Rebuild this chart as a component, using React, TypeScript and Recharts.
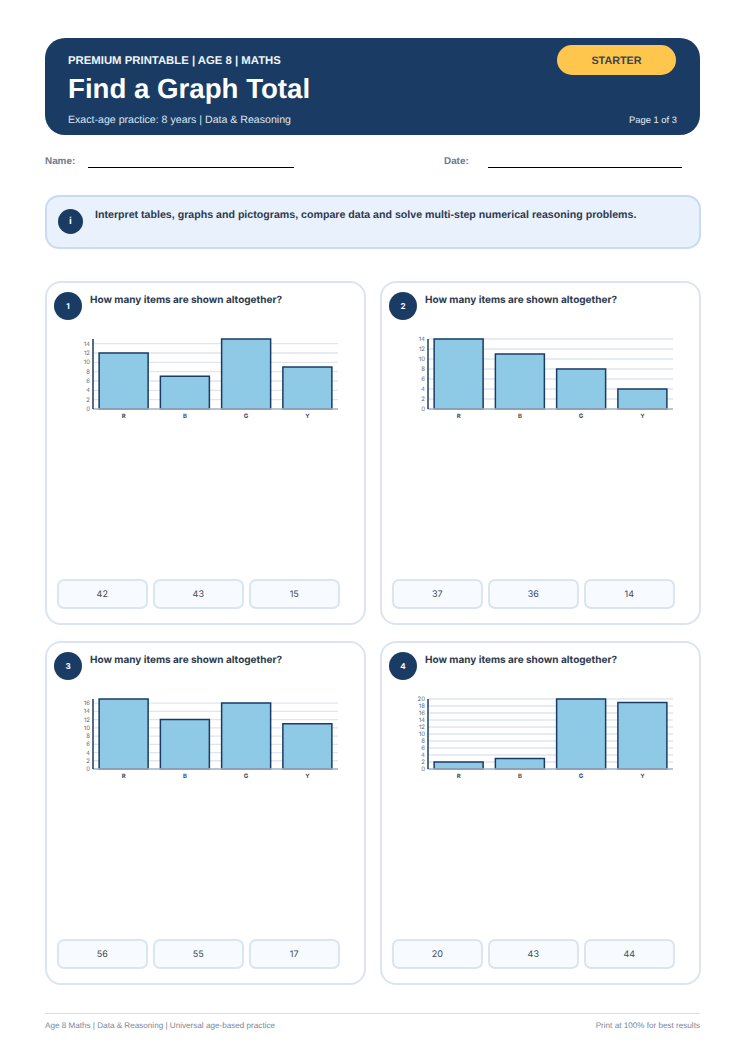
import { BarChart, Bar, XAxis, YAxis, CartesianGrid } from 'recharts';

const categories = ['R', 'B', 'G', 'Y'];

const valuesQ1 = [12, 7, 15, 9];
const valuesQ2 = [14, 11, 8, 4];
const valuesQ3 = [17, 12, 16, 11];
const valuesQ4 = [2, 3, 20, 19];

const ticksQ1 = [0, 2, 4, 6, 8, 10, 12, 14];
const ticksQ2 = [0, 2, 4, 6, 8, 10, 12, 14];
const ticksQ3 = [0, 2, 4, 6, 8, 10, 12, 14, 16];
const ticksQ4 = [0, 2, 4, 6, 8, 10, 12, 14, 16, 18, 20];

const answersQ1 = ['42', '43', '15'];
const answersQ2 = ['37', '36', '14'];
const answersQ3 = ['56', '55', '17'];
const answersQ4 = ['20', '43', '44'];

const NAVY = '#1a3c64';
const ARIAL = '"Liberation Sans", Arial, sans-serif';
const INTER = 'Inter, sans-serif';

function MiniChart({ values, ticks }: { values: number[]; ticks: number[] }) {
    const data = categories.map((name, i) => ({ name, value: values[i] }));
    return (
        <BarChart width={280} height={90} data={data} barCategoryGap="10%"
            margin={{ top: 4, right: 5, bottom: 0, left: 0 }}>
            <CartesianGrid vertical={false} syncWithTicks stroke="#dfe6ef" strokeWidth={1.3} />
            <XAxis dataKey="name" height={16} tickLine={false} tickSize={3} interval={0}
                axisLine={{ stroke: '#a9b6c8', strokeWidth: 1.4 }}
                tick={{ fontSize: 6, fontWeight: 700, fill: '#3d4a5c', fontFamily: INTER }} />
            <YAxis width={30} domain={[0, Math.max(...values)]} ticks={ticks} interval={0} tickLine={false}
                tickSize={3} tickMargin={0}
                axisLine={{ stroke: NAVY, strokeWidth: 1.5 }}
                tick={{ fontSize: 6, fill: '#5a6675', fontFamily: INTER }} />
            <Bar dataKey="value" fill="#8ecae6" stroke={NAVY} strokeWidth={1.5} isAnimationActive={false} />
        </BarChart>
    );
}

function Card({ n, left, top, values, ticks, answers }: { n: number; left: number; top: number; values: number[]; ticks: number[]; answers: string[] }) {
    return (
        <div style={{ position: 'absolute', left, top, width: 320.5, height: 343.5, boxSizing: 'border-box', border: '2px solid #dbe5f1', borderRadius: 16, background: '#fff' }}>
            <div style={{ position: 'absolute', left: 7, top: 8.5, width: 28, height: 28, borderRadius: 14, background: NAVY, color: '#fff', fontSize: 8, fontWeight: 700, fontFamily: INTER, textAlign: 'center', lineHeight: '28px' }}>{n}</div>
            <div style={{ position: 'absolute', left: 43, top: 11, fontSize: 10, fontWeight: 700, color: '#2d3a4e', fontFamily: INTER, whiteSpace: 'nowrap' }}>How many items are shown altogether?</div>
            <div style={{ position: 'absolute', left: 15.5, top: 52 }}>
                <MiniChart values={values} ticks={ticks} />
            </div>
            {answers.map((a, i) => (
                <div key={i} style={{ position: 'absolute', left: 10 + i * 96, top: 296, width: 90.5, height: 29.5, boxSizing: 'border-box', border: '2px solid #dbe5f1', borderRadius: 7, background: '#f7fafe', color: '#3f4a5a', fontSize: 9, fontFamily: INTER, textAlign: 'center', lineHeight: '27px' }}>{a}</div>
            ))}
        </div>
    );
}

function Text({ x, y, size, color, bold, right, children }: any) {
    return (
        <div style={{ position: 'absolute', top: y, left: right === undefined ? x : undefined, right, fontSize: size, color, fontWeight: bold ? 700 : 400, fontFamily: ARIAL, whiteSpace: 'nowrap', lineHeight: 1.2 }}>{children}</div>
    );
}

export default function App() {
    return (
        <div style={{ position: 'absolute', left: 0, top: 0, width: 745, height: 1053, background: '#fff', overflow: 'hidden', textRendering: 'geometricPrecision' }}>
            <div style={{ position: 'absolute', left: 45, top: 38, width: 655, height: 97, background: NAVY, borderRadius: 20 }} />
            <Text x={68} y={55} size={11.35} color="#f0f4fa" bold>PREMIUM PRINTABLE | AGE 8 | MATHS</Text>
            <Text x={68} y={71.5} size={27.65} color="#fff" bold>Find a Graph Total</Text>
            <Text x={68} y={113.5} size={10.6} color="#dbe5f1">Exact-age practice: 8 years | Data &amp; Reasoning</Text>
            <div style={{ position: 'absolute', left: 557, top: 45, width: 119, height: 30, borderRadius: 15, background: '#ffc64d', color: '#3b4350', fontFamily: ARIAL, fontWeight: 700, fontSize: 10.8, textAlign: 'center', lineHeight: '32px' }}>STARTER</div>
            <Text right={68} y={114} size={9.4} color="#e6edf6">Page 1 of 3</Text>

            <Text x={45} y={156} size={9.9} color="#6b7a90" bold>Name:</Text>
            <div style={{ position: 'absolute', left: 88, top: 167, width: 206, height: 1, background: '#000' }} />
            <Text x={444} y={156} size={9.9} color="#6b7a90" bold>Date:</Text>
            <div style={{ position: 'absolute', left: 488, top: 167, width: 194, height: 1, background: '#000' }} />

            <div style={{ position: 'absolute', left: 44.5, top: 194.5, width: 656, height: 54, boxSizing: 'border-box', background: '#e9f1fc', border: '2px solid #c9dbf2', borderRadius: 14 }} />
            <div style={{ position: 'absolute', left: 58, top: 209, width: 25, height: 25, borderRadius: 13, background: NAVY, color: '#fff', fontFamily: ARIAL, fontWeight: 700, fontSize: 10, textAlign: 'center', lineHeight: '25px' }}>i</div>
            <Text x={95} y={208.6} size={10.64} color="#2d3a4e" bold>Interpret tables, graphs and pictograms, compare data and solve multi-step numerical reasoning problems.</Text>

            <Card n={1} left={45} top={281} values={valuesQ1} ticks={ticksQ1} answers={answersQ1} />
            <Card n={2} left={380} top={281} values={valuesQ2} ticks={ticksQ2} answers={answersQ2} />
            <Card n={3} left={45} top={641} values={valuesQ3} ticks={ticksQ3} answers={answersQ3} />
            <Card n={4} left={380} top={641} values={valuesQ4} ticks={ticksQ4} answers={answersQ4} />

            <div style={{ position: 'absolute', left: 45, top: 1013, width: 655, height: 1, background: '#d5deea' }} />
            <Text x={45} y={1021} size={8.15} color="#7b8797">Age 8 Maths | Data &amp; Reasoning | Universal age-based practice</Text>
            <Text right={45} y={1021} size={8.15} color="#7b8797">Print at 100% for best results</Text>
        </div>
    );
}
